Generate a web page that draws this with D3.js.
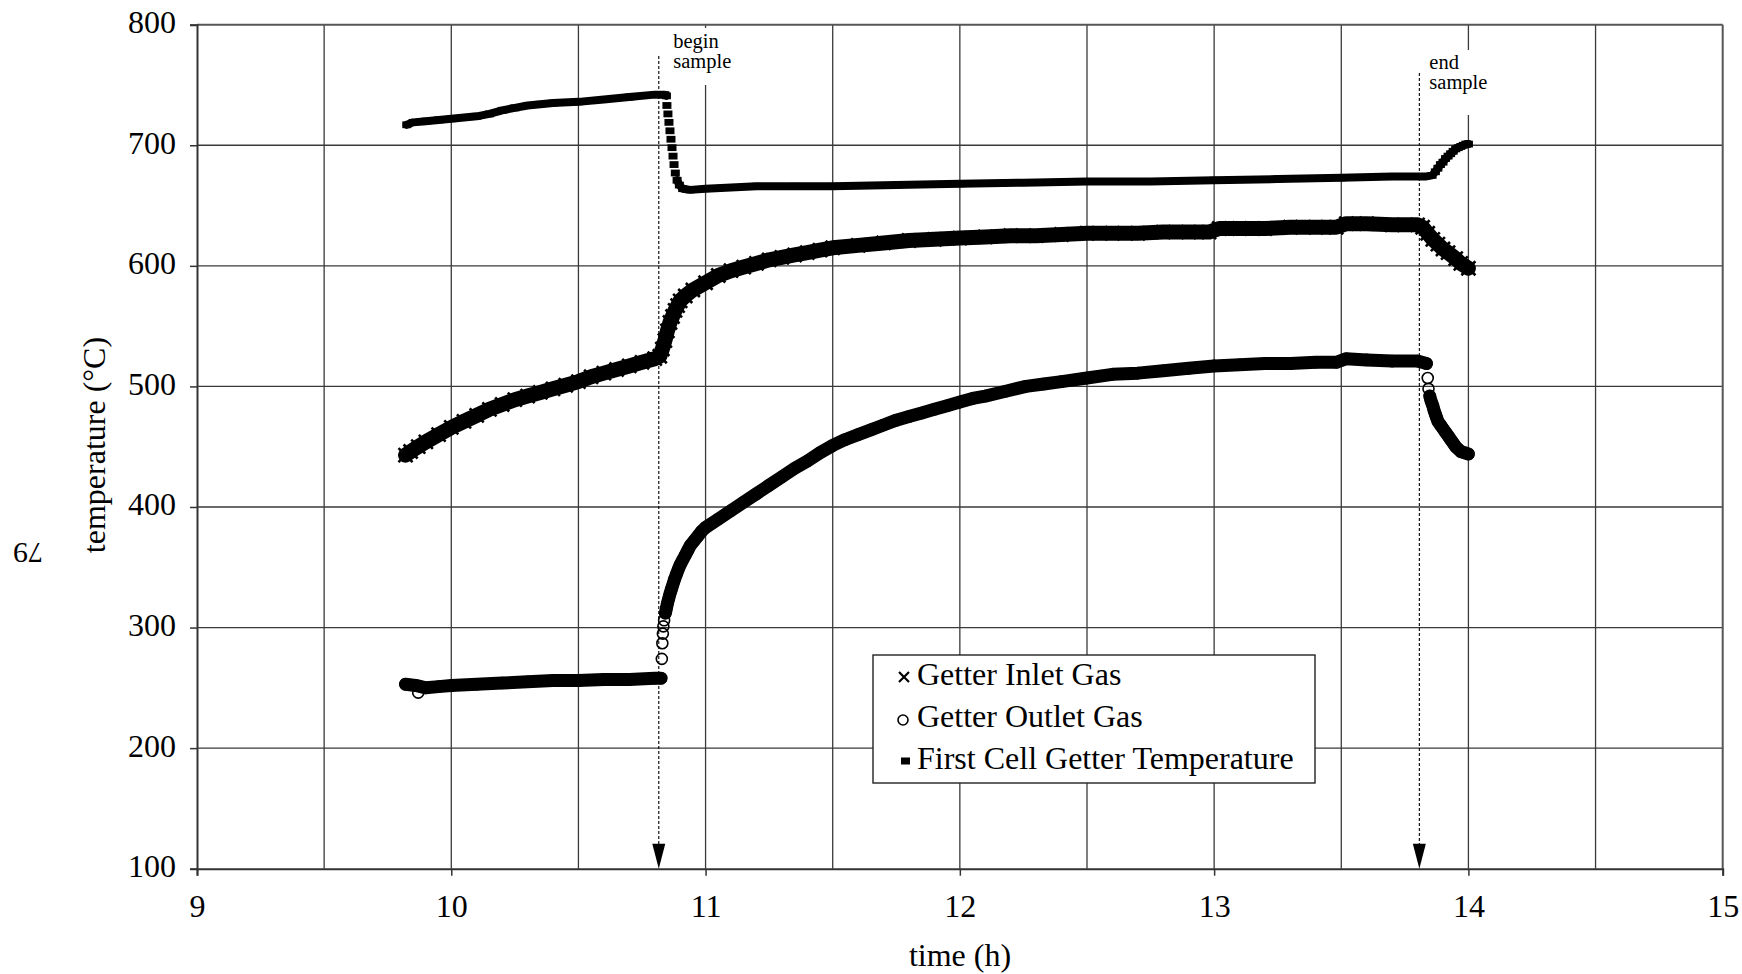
<!DOCTYPE html>
<html>
<head>
<meta charset="utf-8">
<script src="https://cdn.jsdelivr.net/npm/d3@7"></script>
<style>
  html, body { margin: 0; padding: 0; background: #fff; }
  svg { display: block; }
</style>
</head>
<body>
<svg id="chart" width="1742" height="974"></svg>
<script>
// ---- axis ticks ----
const xTicks = [9, 10, 11, 12, 13, 14, 15];
const xGridLines = [9.5, 10, 10.5, 11, 11.5, 12, 12.5, 13, 13.5, 14, 14.5];
const yTicks = [100, 200, 300, 400, 500, 600, 700, 800];

// ---- series: [time (h), temperature (°C)] ----
const inletGas = [
  [9.82,443],[9.84,446],[9.87,450],[9.90,454],[9.95,460],[10.0,466],[10.05,471],[10.1,476],
  [10.15,481],[10.2,485],[10.25,489],[10.3,492],[10.35,495],[10.4,498],[10.45,501],[10.5,504],
  [10.55,508],[10.6,511],[10.65,514],[10.7,517],[10.75,520],[10.8,523],[10.82,525],[10.83,531],
  [10.84,538],[10.85,546],[10.86,553],[10.87,558],[10.88,563],[10.89,567],[10.90,571],[10.92,575],
  [10.95,580],[11.0,586],[11.05,592],[11.1,596],[11.15,599],[11.2,602],[11.25,605],[11.3,607],
  [11.35,609],[11.4,611],[11.45,613],[11.5,615],[11.6,617],[11.7,619],[11.8,621],[11.9,622],
  [12.0,623],[12.1,624],[12.2,625],[12.3,625],[12.4,626],[12.5,627],[12.6,627],[12.7,627],
  [12.8,628],[12.9,628],[12.98,628],[13.02,631],[13.1,631],[13.2,631],[13.3,632],[13.4,632],
  [13.48,632],[13.52,635],[13.6,635],[13.7,634],[13.8,634],[13.82,632],[13.84,627],[13.86,622],
  [13.88,618],[13.9,614],[13.92,611],[13.95,606],[13.97,602],[14.0,598]
];
const outletGas = [
  [9.82,253],[9.86,252],[9.9,250],[9.95,251],[10.0,252],[10.1,253],[10.2,254],[10.3,255],
  [10.4,256],[10.5,256],[10.6,257],[10.7,257],[10.8,258],[10.825,258],[10.828,274],[10.830,287],
  [10.832,295],[10.834,301],[10.837,306],[10.842,312],[10.846,316],[10.85,320],[10.855,324],
  [10.86,328],[10.866,332],[10.872,336],[10.878,340],[10.885,344],[10.892,348],[10.9,352],
  [10.91,356],[10.92,360],[10.93,364],[10.94,368],[10.955,372],[10.97,376],[10.985,380],[11.0,383],
  [11.05,390],[11.1,397],[11.15,404],[11.2,411],[11.25,418],[11.3,425],[11.35,432],[11.4,438],
  [11.45,445],[11.5,451],[11.55,456],[11.6,460],[11.65,464],[11.7,468],[11.75,472],[11.8,475],
  [11.85,478],[11.9,481],[11.95,484],[12.0,487],[12.05,490],[12.1,492],[12.18,496],[12.26,500],
  [12.33,502],[12.4,504],[12.5,507],[12.6,510],[12.7,511],[12.8,513],[12.9,515],[13.0,517],
  [13.1,518],[13.2,519],[13.3,519],[13.4,520],[13.48,520],[13.52,523],[13.6,522],[13.7,521],
  [13.8,521],[13.835,519],[13.84,507],[13.843,498],[13.848,492],[13.853,488],[13.86,484],
  [13.865,480],[13.87,477],[13.875,474],[13.88,471],[13.89,468],[13.9,465],[13.91,462],
  [13.92,459],[13.93,456],[13.94,453],[13.95,450],[13.96,448],[13.97,446],[13.985,445],[14.0,444]
];
// isolated outlet readings that sit apart from the main trace
const outletStray = [[9.87,246]];
const cellGetter = [
  [9.825,717],[9.85,719],[9.9,720],[9.95,721],[10.0,722],[10.05,723],[10.1,724],[10.15,726],
  [10.2,729],[10.25,731],[10.3,733],[10.35,734],[10.4,735],[10.5,736],[10.6,738],[10.7,740],
  [10.8,742],[10.84,742],[10.846,741],[10.848,733],[10.852,726],[10.856,719],[10.860,712],
  [10.864,705],[10.868,698],[10.872,691],[10.876,684],[10.881,677],[10.888,671],[10.897,667],
  [10.91,664],[10.94,663],[11.0,664],[11.1,665],[11.2,666],[11.35,666],[11.5,666],[11.75,667],
  [12.0,668],[12.25,669],[12.5,670],[12.75,670],[13.0,671],[13.25,672],[13.5,673],[13.7,674],
  [13.83,674],[13.857,675],[13.87,678],[13.88,681],[13.89,684],[13.9,686],[13.91,689],
  [13.92,691],[13.93,693],[13.94,695],[13.95,697],[13.96,698],[13.97,699],[13.98,700],
  [13.99,701],[14.0,701]
];

// ---- sampling window and legend ----
const sampleMarks = [
  { t: 10.816, lines: ["begin", "sample"] },
  { t: 13.807, lines: ["end", "sample"] }
];
const legendLabels = ["Getter Inlet Gas", "Getter Outlet Gas", "First Cell Getter Temperature"];
const xTitle = "time (h)";
const yTitle = "temperature (°C)";
const pageNumber = "79";

// ---- layout ----
const FONT = "'Liberation Serif', 'Times New Roman', serif";
const svg = d3.select("#chart").attr("font-family", FONT);
const x = d3.scaleLinear().domain([9, 15]).range([197, 1722.7]);
const y = d3.scaleLinear().domain([100, 800]).range([868.7, 24.7]);
const [yBottom, yTop] = y.range();
const [xLeft, xRight] = x.range();

// grid
const grid = svg.append("g");
grid.selectAll("line.gv").data(xGridLines).join("line")
  .attr("class", "gv")
  .attr("x1", d => x(d)).attr("x2", d => x(d))
  .attr("y1", yTop).attr("y2", yBottom)
  .attr("stroke", "#3a3a3a").attr("stroke-width", 1.3);
grid.selectAll("line.gh").data(yTicks.filter(v => v > 100 && v < 800)).join("line")
  .attr("class", "gh")
  .attr("x1", xLeft).attr("x2", xRight)
  .attr("y1", d => y(d)).attr("y2", d => y(d))
  .attr("stroke", "#3a3a3a").attr("stroke-width", 1.3);

// frame: top and right
svg.append("line").attr("x1", xLeft).attr("x2", xRight).attr("y1", yTop).attr("y2", yTop)
  .attr("stroke", "#555").attr("stroke-width", 2);
svg.append("line").attr("x1", xRight).attr("x2", xRight).attr("y1", yTop).attr("y2", yBottom)
  .attr("stroke", "#555").attr("stroke-width", 2);

// axes
const yAxis = svg.append("g")
  .attr("transform", `translate(${xLeft},0)`)
  .call(d3.axisLeft(y).tickValues(yTicks).tickSize(7).tickPadding(14).tickFormat(d3.format("d")));
const xAxis = svg.append("g")
  .attr("transform", `translate(0,${yBottom})`)
  .call(d3.axisBottom(x).tickValues(xTicks).tickSize(7).tickPadding(19).tickFormat(d3.format("d")));
[yAxis, xAxis].forEach(a => {
  a.attr("font-family", FONT).attr("font-size", 32);
  a.select(".domain").attr("stroke", "#333").attr("stroke-width", 2);
  a.selectAll(".tick line").attr("stroke", "#333").attr("stroke-width", 1.5);
  a.selectAll(".tick text").attr("fill", "#000");
});
yAxis.selectAll(".tick text").attr("dy", "0.25em");

// axis titles
svg.append("text").attr("x", 960).attr("y", 966).attr("text-anchor", "middle")
  .attr("font-size", 32).text(xTitle);
svg.append("text").attr("transform", "translate(105,445) rotate(-90)")
  .attr("text-anchor", "middle").attr("font-size", 32).text(yTitle);
svg.append("text").attr("transform", "translate(28,553) rotate(180)")
  .attr("text-anchor", "middle").attr("dominant-baseline", "central")
  .attr("font-size", 30).text(pageNumber);

// sampling window markers
const noteTop = [56, 73];
const noteBox = [[28, 85], [50, 115]];
const noteBase = [48, 69];
const noteDx = [14.5, 10];
sampleMarks.forEach((m, i) => {
  const mx = x(m.t);
  svg.append("rect").attr("x", mx + noteDx[i] - 5).attr("y", noteBox[i][0])
    .attr("width", 72).attr("height", noteBox[i][1] - noteBox[i][0]).attr("fill", "#fff");
  svg.append("line").attr("x1", mx).attr("x2", mx).attr("y1", noteTop[i]).attr("y2", yBottom - 24)
    .attr("stroke", "#000").attr("stroke-width", 1.1).attr("stroke-dasharray", "3,2");
  svg.append("path")
    .attr("d", `M${mx - 6.5},${yBottom - 25}L${mx + 6.5},${yBottom - 25}L${mx},${yBottom}Z`)
    .attr("fill", "#000");
  const t = svg.append("text").attr("x", mx + noteDx[i]).attr("y", noteBase[i]).attr("font-size", 20.5);
  m.lines.forEach((s, k) => t.append("tspan").attr("x", mx + noteDx[i]).attr("dy", k ? 19.5 : 0).text(s));
});

// ---- series bands ----
const line = d3.line().x(d => x(d[0])).y(d => y(d[1]));
function drawBand(data, width, maxGap) {
  // readings are joined into one band except on near-vertical runs of sparse points
  const segs = [];
  let cur = [data[0]];
  for (let i = 1; i < data.length; i++) {
    const dy = Math.abs(y(data[i][1]) - y(data[i - 1][1]));
    const dx = Math.abs(x(data[i][0]) - x(data[i - 1][0]));
    if (dy <= maxGap || dx >= 4) cur.push(data[i]);
    else { segs.push(cur); cur = [data[i]]; }
  }
  segs.push(cur);
  svg.append("g").selectAll("path").data(segs.filter(s => s.length > 1)).join("path")
    .attr("d", line).attr("fill", "none").attr("stroke", "#000")
    .attr("stroke-width", width).attr("stroke-linejoin", "round").attr("stroke-linecap", "round");
}

// first cell getter temperature
drawBand(cellGetter, 8, 6);
svg.append("g").selectAll("rect").data(cellGetter).join("rect")
  .attr("x", d => x(d[0]) - 4.5).attr("y", d => y(d[1]) - 3.4)
  .attr("width", 9).attr("height", 6.8).attr("fill", "#000");

// getter inlet gas
const crossPath = s => `M${-s},${-s}L${s},${s}M${-s},${s}L${s},${-s}`;
drawBand(inletGas, 15, 20);
svg.append("g").selectAll("path").data(inletGas).join("path")
  .attr("transform", d => `translate(${x(d[0])},${y(d[1])})`)
  .attr("d", crossPath(7)).attr("stroke", "#000").attr("stroke-width", 2.6).attr("fill", "none");

// getter outlet gas
drawBand(outletGas, 13, 5);
svg.append("g").selectAll("circle").data(outletGas.concat(outletStray)).join("circle")
  .attr("cx", d => x(d[0])).attr("cy", d => y(d[1])).attr("r", 5.5)
  .attr("fill", "none").attr("stroke", "#000").attr("stroke-width", 1.6);

// ---- legend ----
const lg = svg.append("g");
lg.append("rect").attr("x", 873).attr("y", 655).attr("width", 442).attr("height", 128)
  .attr("fill", "#fff").attr("stroke", "#222").attr("stroke-width", 1.4);
const rows = [685, 727, 769];
legendLabels.forEach((s, i) => {
  lg.append("text").attr("x", 917).attr("y", rows[i]).attr("font-size", 32).text(s);
});
lg.append("path").attr("transform", `translate(904,${rows[0] - 8})`).attr("d", crossPath(5))
  .attr("stroke", "#000").attr("stroke-width", 2.2).attr("fill", "none");
lg.append("circle").attr("cx", 903).attr("cy", rows[1] - 7).attr("r", 5)
  .attr("fill", "none").attr("stroke", "#000").attr("stroke-width", 1.6);
lg.append("rect").attr("x", 901).attr("y", rows[2] - 11.5).attr("width", 9).attr("height", 7)
  .attr("fill", "#000");
</script>
</body>
</html>
